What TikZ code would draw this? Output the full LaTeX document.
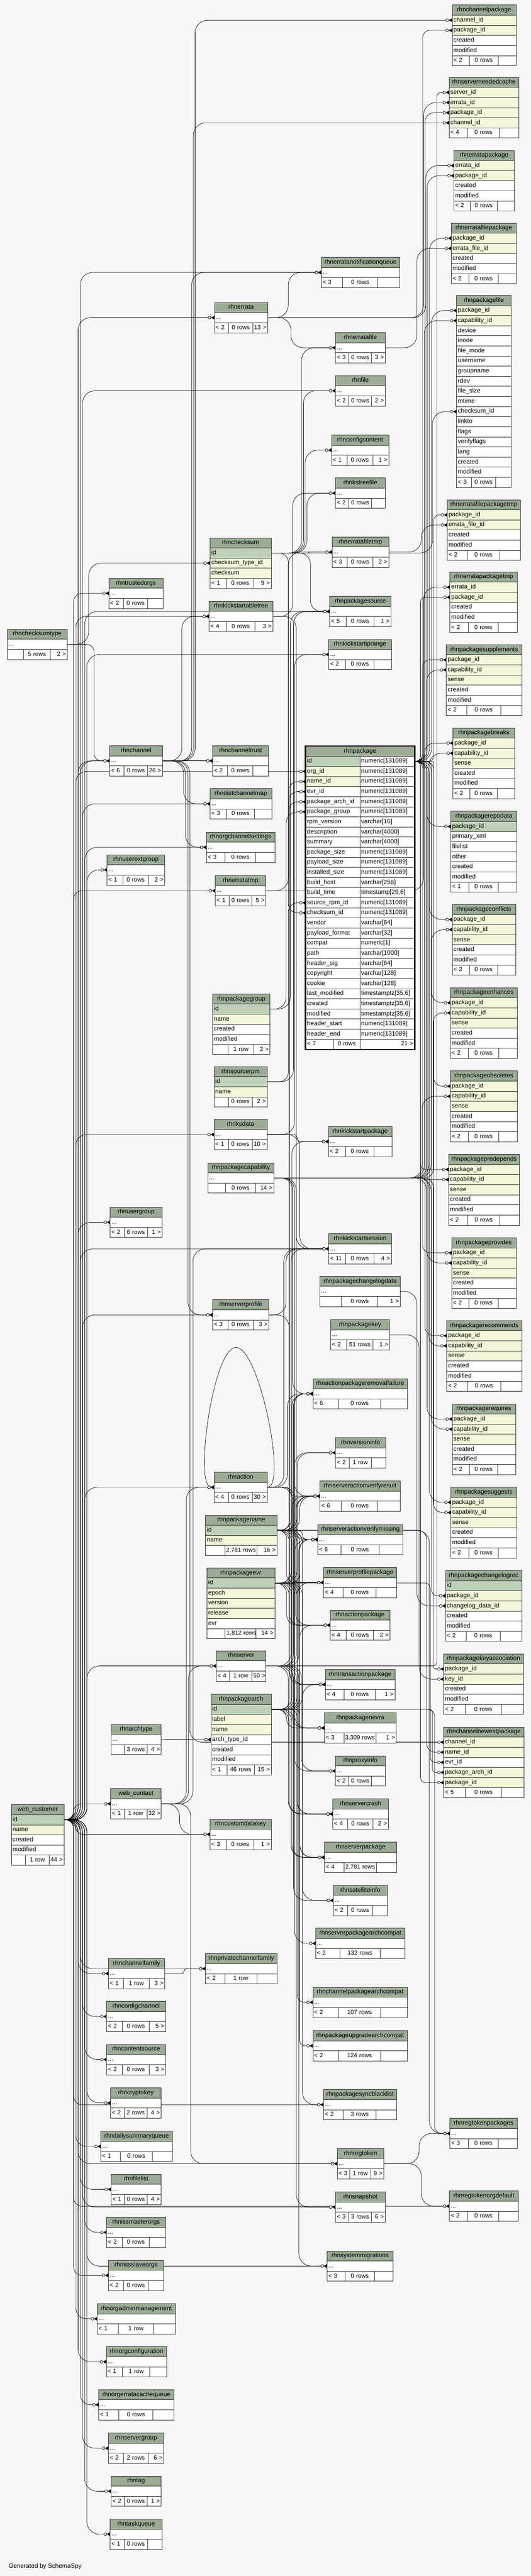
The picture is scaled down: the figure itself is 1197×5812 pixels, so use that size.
\documentclass[tikz,border=0pt]{standalone}
\usepackage{fontspec}
\setmainfont{Liberation Sans}
\usetikzlibrary{calc,arrows.meta}

\definecolor{sheet}{HTML}{F7F7F7}
\definecolor{headgreen}{HTML}{9BAB96}
\definecolor{keygreen}{HTML}{BED1B8}
\definecolor{idxyellow}{HTML}{F4F7DA}

\pgfdeclarelayer{bg}
\pgfdeclarelayer{edges}
\pgfsetlayers{bg,edges,main}

\newcommand{\rowh}{22.8}

% footer row: parents | rows | children
\newcommand{\dbfoot}[7]{%
  \pgfmathsetmacro\fa{0.27*#4}\pgfmathsetmacro\fb{0.45*#4}\pgfmathsetmacro\fc{#4-\fa-\fb}%
  \pgfmathsetmacro\fat{\fa-6}\pgfmathsetmacro\fbt{\fb-6}\pgfmathsetmacro\fct{\fc-6}%
  \node[ftcol, text width=\fat pt, align=left] (#1-fl) at (#2,#3) {\mbox{#5}};
  \node[ftcol, text width=\fbt pt, align=center] (#1-fm) at (#2+\fa,#3) {\mbox{#6}};
  \node[ftcol, text width=\fct pt, align=right] (#1-fr) at (#2+\fa+\fb,#3) {\mbox{#7}};}

% collapsed table
\newcommand{\dbbrief}[7]{%
  \pgfmathsetmacro\tw{#4-6}%
  \node[hdcol, text width=\tw pt] (#1) at (#2,#3) {#1};
  \node[plcol, text width=\tw pt] (#1-r) at (#2,#3+\rowh) {...};
  \dbfoot{#1}{#2}{#3+2*\rowh}{#4}{#5}{#6}{#7}}

% table with its columns
\newcommand{\dbtable}[8]{%
  \pgfmathsetmacro\tw{#4-6}%
  \node[hdcol, text width=\tw pt] (#1) at (#2,#3) {#1};
  \foreach \kind/\fld [count=\rn] in {#5}{%
    \node[\kind, text width=\tw pt] (#1-\fld) at (#2,#3+\rn*\rowh) {\fld};
    \xdef\nrow{\rn}}%
  \dbfoot{#1}{#2}{#3+\nrow*\rowh+\rowh}{#4}{#6}{#7}{#8}}

% foreign key: parent row -> child row, vertical run at x = #1
\newcommand{\fk}[3][0]{%
  \draw[fkline] let \p1=(#2.east), \p2=(#3.west),
    \n1={max(0.5,min(28,abs(\y2-\y1)/2,#1-\x1-2,\x2-#1-18))} in
    [rounded corners=\n1] (\p1) -- (#1pt,\y1) -- (#1pt,\y2) -- (\p2);}

\tikzset{
  cell/.style={draw=black!80, line width=0.9pt, anchor=north west, inner xsep=3pt, inner ysep=0pt,
    minimum height=\rowh pt, text height=10.5pt, text depth=3.5pt, font=\fontsize{14}{16}\selectfont},
  hdcol/.style={cell, fill=headgreen, align=center},
  pkcol/.style={cell, fill=keygreen, align=left},
  ixcol/.style={cell, fill=idxyellow, align=left},
  plcol/.style={cell, fill=white, align=left},
  ftcol/.style={cell, fill=white, font=\fontsize{13.5}{16}\selectfont},
  fkline/.style={draw=black, line width=0.8pt,
    -{Circle[length=7pt,fill=white] Triangle[reversed,length=7pt,width=8pt]}},
}

\begin{document}
\catcode`\_=12
\begin{tikzpicture}[x=1pt,y=-1pt]

  \path[use as bounding box] (0,0) rectangle (1197,5812);
  \begin{pgfonlayer}{bg}
    \fill[sheet] (0,0) rectangle (1197,5812);
  \end{pgfonlayer}

  % right column
  \dbtable{rhnchannelpackage}{1019}{11}{144}{ixcol/channel_id, ixcol/package_id, plcol/created, plcol/modified}{< 2}{0 rows}{}
  \dbtable{rhnserverneededcache}{1012}{174}{157}{ixcol/server_id, ixcol/errata_id, ixcol/package_id, ixcol/channel_id}{< 4}{0 rows}{}
  \dbtable{rhnerratapackage}{1023}{339}{136}{ixcol/errata_id, ixcol/package_id, plcol/created, plcol/modified}{< 2}{0 rows}{}
  \dbtable{rhnerratafilepackage}{1017}{503}{147}{ixcol/package_id, ixcol/errata_file_id, plcol/created, plcol/modified}{< 2}{0 rows}{}
  \dbtable{rhnpackagefile}{1029}{666}{123}{ixcol/package_id, ixcol/capability_id, plcol/device, plcol/inode,
    plcol/file_mode, plcol/username, plcol/groupname, plcol/rdev, plcol/file_size, plcol/mtime, plcol/checksum_id,
    plcol/linkto, plcol/flags, plcol/verifyflags, plcol/lang, plcol/created, plcol/modified}{< 3}{0 rows}{}
  \dbtable{rhnerratafilepackagetmp}{1008}{1127}{165}{ixcol/package_id, ixcol/errata_file_id, plcol/created, plcol/modified}{< 2}{0 rows}{}
  \dbtable{rhnerratapackagetmp}{1014}{1290}{152}{ixcol/errata_id, ixcol/package_id, plcol/created, plcol/modified}{< 2}{0 rows}{}
  \foreach \kname/\kx/\ky/\kw in {supplements/1006/1454/170, breaks/1021/1642/139, conflicts/1019/2040/143,
    enhances/1015/2228/151, obsoletes/1015/2416/151, predepends/1011/2604/160, provides/1018/2792/145,
    recommends/1007/2979/169, requires/1019/3167/143, suggests/1016/3355/149}{%
    \dbtable{rhnpackage\kname}{\kx}{\ky}{\kw}{ixcol/package_id, ixcol/capability_id, ixcol/sense, plcol/created, plcol/modified}{< 2}{0 rows}{}}
  \dbtable{rhnpackagerepodata}{1016}{1830}{149}{pkcol/package_id, plcol/primary_xml, plcol/filelist, plcol/other, plcol/created, plcol/modified}{< 1}{0 rows}{}
  \dbtable{rhnpackagechangelogrec}{1004}{3543}{172}{pkcol/id, ixcol/package_id, ixcol/changelog_data_id, plcol/created, plcol/modified}{< 2}{0 rows}{}
  \dbtable{rhnpackagekeyassociation}{1000}{3731}{180}{ixcol/package_id, ixcol/key_id, plcol/created, plcol/modified}{< 2}{0 rows}{}
  \dbtable{rhnchannelnewestpackage}{1000}{3896}{181}{ixcol/channel_id, ixcol/name_id, plcol/evr_id, ixcol/package_arch_id, ixcol/package_id}{< 5}{0 rows}{}
  \dbbrief{rhnregtokenpackages}{1014}{4779}{152}{< 3}{0 rows}{}
  \dbbrief{rhnregtokenorgdefault}{1013}{4943}{155}{< 2}{0 rows}{}

  % the package table
  \node[hdcol, text width=239pt] (rhnpackage) at (689,1683) {rhnpackage};
  \foreach \kind/\fld/\typ [count=\rn] in {pkcol/id/numeric[131089], ixcol/org_id/numeric[131089],
    ixcol/name_id/numeric[131089], plcol/evr_id/numeric[131089], plcol/package_arch_id/numeric[131089],
    plcol/package_group/numeric[131089], plcol/rpm_version/varchar[16], plcol/description/varchar[4000],
    plcol/summary/varchar[4000], plcol/package_size/numeric[131089], plcol/payload_size/numeric[131089],
    plcol/installed_size/numeric[131089], plcol/build_host/varchar[256], plcol/build_time/{timestamp[29,6]},
    plcol/source_rpm_id/numeric[131089], plcol/checksum_id/numeric[131089], plcol/vendor/varchar[64],
    plcol/payload_format/varchar[32], plcol/compat/numeric[1], plcol/path/varchar[1000],
    plcol/header_sig/varchar[64], plcol/copyright/varchar[128], plcol/cookie/varchar[128],
    plcol/last_modified/{timestamptz[35,6]}, plcol/created/{timestamptz[35,6]},
    plcol/modified/{timestamptz[35,6]}, plcol/header_start/numeric[131089], plcol/header_end/numeric[131089]}{%
    \node[\kind, text width=116pt] (rhnpackage-\fld) at (689,1683+\rn*\rowh) {\fld};
    \node[plcol, text width=117pt] (rhnpackage-\fld-type) at (811,1683+\rn*\rowh) {\typ};}
  \node[ftcol, text width=57pt, align=left] (rhnpackage-fl) at (689,1683+29*\rowh) {< 7};
  \node[ftcol, text width=53pt, align=center] (rhnpackage-fm) at (752,1683+29*\rowh) {0 rows};
  \node[ftcol, text width=117pt, align=right] (rhnpackage-fr) at (811,1683+29*\rowh) {21 >};
  \draw[line width=3pt] (rhnpackage.north west) rectangle (rhnpackage-fr.south east);

  % third column
  \dbbrief{rhnerratanotificationqueue}{724}{580}{177}{< 3}{0 rows}{}
  \dbbrief{rhnerratafile}{756}{750}{112}{< 3}{0 rows}{3 >}
  \dbbrief{rhnfile}{756}{847}{112}{< 2}{0 rows}{2 >}
  \dbbrief{rhnconfigcontent}{747}{981}{129}{< 1}{0 rows}{1 >}
  \dbbrief{rhnkstreefile}{756}{1078}{112}{< 2}{0 rows}{}
  \dbbrief{rhnerratafiletmp}{748}{1211}{128}{< 3}{0 rows}{2 >}
  \dbbrief{rhnpackagesource}{743}{1345}{138}{< 5}{0 rows}{1 >}
  \dbbrief{rhnkickstartiprange}{741}{1442}{141}{< 2}{0 rows}{}
  \dbbrief{rhnkickstartpackage}{740}{2541}{143}{< 2}{0 rows}{}
  \dbbrief{rhnkickstartsession}{741}{2783}{141}{< 11}{0 rows}{4 >}
  \dbbrief{rhnpackagechangelogdata}{721}{2879}{181}{}{0 rows}{1 >}
  \dbbrief{rhnpackagekey}{745}{2977}{133}{< 2}{51 rows}{1 >}
  \dbbrief{rhnactionpackageremovalfailure}{705}{3110}{213}{< 6}{0 rows}{}
  \dbbrief{rhnversioninfo}{756}{3243}{113}{< 2}{1 row}{}
  \dbbrief{rhnserveractionverifyresult}{721}{3341}{181}{< 6}{0 rows}{}
  \dbbrief{rhnserveractionverifymissing}{716}{3439}{192}{< 6}{0 rows}{}
  \dbbrief{rhnserverprofilepackage}{729}{3536}{165}{< 4}{0 rows}{}
  \dbbrief{rhnactionpackage}{744}{3632}{135}{< 4}{0 rows}{2 >}
  \dbbrief{rhntransactionpackage}{733}{3766}{157}{< 4}{0 rows}{1 >}
  \dbbrief{rhnpackagenevra}{731}{3864}{162}{< 3}{3,309 rows}{1 >}
  \dbbrief{rhnproxyinfo}{756}{3961}{112}{< 2}{0 rows}{}
  \dbbrief{rhnservercrash}{750}{4058}{125}{< 4}{0 rows}{2 >}
  \dbbrief{rhnserverpackage}{731}{4156}{163}{< 4}{2,781 rows}{}
  \dbbrief{rhnsatelliteinfo}{751}{4253}{122}{< 2}{0 rows}{}
  \dbbrief{rhnserverpackagearchcompat}{711}{4350}{202}{< 2}{132 rows}{}
  \dbbrief{rhnchannelpackagearchcompat}{705}{4483}{213}{< 2}{107 rows}{}
  \dbbrief{rhnpackageupgradearchcompat}{705}{4581}{213}{< 2}{124 rows}{}
  \dbbrief{rhnpackagesyncblacklist}{729}{4714}{165}{< 2}{3 rows}{}
  \dbbrief{rhnregtoken}{760}{4847}{105}{< 3}{1 row}{9 >}
  \dbbrief{rhnsnapshot}{756}{4945}{112}{< 3}{3 rows}{6 >}
  \dbbrief{rhnsystemmigrations}{737}{5078}{149}{< 3}{0 rows}{}

  % middle column
  \dbbrief{rhnerrata}{483}{682}{120}{< 2}{0 rows}{13 >}
  \dbtable{rhnchecksum}{473}{1213}{138}{pkcol/id, ixcol/checksum_type_id, ixcol/checksum}{< 1}{0 rows}{9 >}
  \dbbrief{rhnkickstartabletree}{471}{1356}{144}{< 4}{0 rows}{3 >}
  \dbbrief{rhnchanneltrust}{479}{1682}{126}{< 2}{0 rows}{}
  \dbbrief{rhndistchannelmap}{473}{1779}{139}{< 3}{0 rows}{}
  \dbbrief{rhnorgchannelsettings}{465}{1877}{154}{< 3}{0 rows}{}
  \dbbrief{rhnerratatmp}{485}{1975}{114}{< 1}{0 rows}{5 >}
  \dbtable{rhnpackagegroup}{479}{2242}{129}{pkcol/id, ixcol/name, plcol/created, plcol/modified}{}{1 row}{2 >}
  \dbtable{rhnsourcerpm}{482}{2406}{120}{pkcol/id, ixcol/name}{}{0 rows}{2 >}
  \dbbrief{rhnksdata}{482}{2525}{120}{< 1}{0 rows}{10 >}
  \dbbrief{rhnpackagecapability}{468}{2623}{149}{}{0 rows}{14 >}
  \dbbrief{rhnserverprofile}{479}{2932}{127}{< 3}{0 rows}{3 >}
  \dbbrief{rhnaction}{482}{3321}{120}{< 4}{0 rows}{30 >}
  \dbtable{rhnpackagename}{463}{3418}{161}{pkcol/id, ixcol/name}{}{2,781 rows}{16 >}
  \dbtable{rhnpackageevr}{466}{3537}{153}{pkcol/id, ixcol/epoch, ixcol/version, ixcol/release, plcol/evr}{}{1,812 rows}{14 >}
  \dbbrief{rhnserver}{487}{3724}{112}{< 4}{1 row}{50 >}
  \dbtable{rhnpackagearch}{475}{3822}{136}{pkcol/id, ixcol/label, ixcol/name, plcol/arch_type_id, plcol/created, plcol/modified}{< 1}{46 rows}{15 >}
  \dbbrief{rhncustomdatakey}{473}{4104}{138}{< 3}{0 rows}{1 >}
  \dbbrief{rhnprivatechannelfamily}{463}{4407}{161}{< 2}{1 row}{}

  % second column
  \dbbrief{rhntrustedorgs}{245}{1304}{122}{< 2}{0 rows}{}
  \dbbrief{rhnchannel}{247}{1682}{119}{< 6}{0 rows}{26 >}
  \dbbrief{rhnuserextgroup}{241}{1928}{130}{< 1}{0 rows}{2 >}
  \dbbrief{rhnusergroup}{248}{2723}{117}{< 2}{6 rows}{1 >}
  \dbbrief{rhnarchtype}{250}{3890}{113}{}{3 rows}{4 >}
  \dbbrief{web_contact}{249}{4035}{114}{< 1}{1 row}{32 >}
  \dbbrief{rhnchannelfamily}{244}{4418}{127}{< 1}{1 row}{3 >}
  \dbbrief{rhnconfigchannel}{240}{4515}{133}{< 2}{0 rows}{5 >}
  \dbbrief{rhncontentsource}{240}{4612}{133}{< 2}{0 rows}{3 >}
  \dbbrief{rhncryptokey}{249}{4710}{114}{< 2}{2 rows}{4 >}
  \dbbrief{rhndailysummaryqueue}{227}{4808}{161}{< 1}{0 rows}{}
  \dbbrief{rhnfilelist}{250}{4905}{113}{< 1}{0 rows}{4 >}
  \dbbrief{rhnissmasterorgs}{240}{5002}{133}{< 2}{0 rows}{}
  \dbbrief{rhnissslaveorgs}{244}{5099}{125}{< 2}{0 rows}{}
  \dbbrief{rhnorgadminmanagement}{219}{5197}{176}{< 1}{1 row}{}
  \dbbrief{rhnorgconfiguration}{239}{5294}{137}{< 1}{1 row}{}
  \dbbrief{rhnorgerratacachequeue}{222}{5391}{170}{< 1}{0 rows}{}
  \dbbrief{rhnservergroup}{244}{5489}{125}{< 2}{2 rows}{6 >}
  \dbbrief{rhntag}{250}{5586}{113}{< 2}{0 rows}{1 >}
  \dbbrief{rhntaskqueue}{248}{5683}{117}{< 1}{0 rows}{}

  % first column
  \dbbrief{rhnchecksumtype}{16}{1419}{135}{}{5 rows}{2 >}
  \dbtable{web_customer}{25}{4071}{119}{pkcol/id, ixcol/name, plcol/created, plcol/modified}{}{1 row}{44 >}

  \node[anchor=west, font=\fontsize{14}{16}\selectfont] (credit) at (16,5790) {Generated by SchemaSpy};

  \begin{pgfonlayer}{edges}
    \foreach \ch [count=\i] in {rhnpackage-org_id, rhnerrata-r, rhnerratanotificationqueue-r, rhnfile-r,
      rhnpackagesource-r, rhnkickstartiprange-r, rhntrustedorgs-r, rhnkickstartabletree-r, rhnchannel-r,
      rhnchanneltrust-r, rhndistchannelmap-r, rhnorgchannelsettings-r, rhnuserextgroup-r, rhnerratatmp-r,
      rhnksdata-r, rhnusergroup-r, rhnkickstartsession-r, rhnserverprofile-r, rhnaction-r, rhnserver-r,
      web_contact-r, rhncustomdatakey-r, rhnchannelfamily-r, rhnprivatechannelfamily-r, rhnconfigchannel-r,
      rhncontentsource-r, rhncryptokey-r, rhnpackagesyncblacklist-r, rhndailysummaryqueue-r, rhnregtoken-r,
      rhnfilelist-r, rhnsnapshot-r, rhnissmasterorgs-r, rhnsystemmigrations-r, rhnissslaveorgs-r,
      rhnorgadminmanagement-r, rhnorgconfiguration-r, rhnorgerratacachequeue-r, rhnservergroup-r, rhntag-r,
      rhntaskqueue-r, rhnregtokenorgdefault-r}{%
      \pgfmathtruncatemacro\cx{166+mod(\i,7)*5}\fk[\cx]{web_customer-id}{\ch}}

    \fk[200]{rhnchecksumtype-r}{rhnchecksum-checksum_type_id}
    \fk[212]{rhnchecksumtype-r}{rhnchannel-r}

    \foreach \ch/\cx in {rhnpackage-checksum_id/650, rhnerratafile-r/680, rhnfile-r/684, rhnconfigcontent-r/688,
      rhnkstreefile-r/692, rhnerratafiletmp-r/696, rhnpackagesource-r/700, rhnpackagefile-checksum_id/975}{%
      \fk[\cx]{rhnchecksum-id}{\ch}}

    \draw[fkline] (rhnchannel-r.east) -- (rhnchanneltrust-r.west);
    \foreach \ch/\cx in {rhnchannelpackage-channel_id/440, rhnserverneededcache-channel_id/436,
      rhnerratanotificationqueue-r/432, rhnkickstartabletree-r/410, rhndistchannelmap-r/414,
      rhnorgchannelsettings-r/418, rhnserverprofile-r/424, rhnchannelnewestpackage-channel_id/428}{%
      \fk[\cx]{rhnchannel-r}{\ch}}

    \foreach \ch/\cx in {rhnserverneededcache-errata_id/955, rhnerratapackage-errata_id/960,
      rhnerratanotificationqueue-r/650, rhnerratafile-r/656}{%
      \fk[\cx]{rhnerrata-r}{\ch}}
    \fk[940]{rhnerratafile-r}{rhnerratafilepackage-errata_file_id}
    \fk[660]{rhnkickstartabletree-r}{rhnkstreefile-r}
    \fk[668]{rhnkickstartabletree-r}{rhnkickstartsession-r}
    \fk[650]{rhnerratatmp-r}{rhnerratafiletmp-r}
    \fk[955]{rhnerratatmp-r}{rhnerratapackagetmp-errata_id}
    \fk[950]{rhnerratafiletmp-r}{rhnerratafilepackagetmp-errata_file_id}
    \fk[645]{rhnpackagegroup-id}{rhnpackage-package_group}
    \fk[655]{rhnpackagegroup-id}{rhnpackagesource-r}
    \fk[650]{rhnsourcerpm-id}{rhnpackage-source_rpm_id}
    \fk[662]{rhnsourcerpm-id}{rhnpackagesource-r}
    \foreach \ch/\cx in {rhnkickstartiprange-r/664, rhnkickstartpackage-r/670, rhnkickstartsession-r/676}{%
      \fk[\cx]{rhnksdata-r}{\ch}}

    \foreach \ch [count=\i] in {rhnpackagefile-capability_id, rhnpackagesupplements-capability_id,
      rhnpackagebreaks-capability_id, rhnpackageconflicts-capability_id, rhnpackageenhances-capability_id,
      rhnpackageobsoletes-capability_id, rhnpackagepredepends-capability_id, rhnpackageprovides-capability_id,
      rhnpackagerecommends-capability_id, rhnpackagerequires-capability_id, rhnpackagesuggests-capability_id}{%
      \pgfmathtruncatemacro\cx{952+mod(\i,6)*5}\fk[\cx]{rhnpackagecapability-r}{\ch}}
    \foreach \ch/\cx in {rhnactionpackageremovalfailure-r/660, rhnserveractionverifyresult-r/664,
      rhnserveractionverifymissing-r/668}{%
      \fk[\cx]{rhnpackagecapability-r}{\ch}}

    \fk[645]{rhnserverprofile-r}{rhnkickstartsession-r}
    \fk[652]{rhnserverprofile-r}{rhnserverprofilepackage-r}

    \foreach \ch/\cx in {rhnkickstartsession-r/640, rhnactionpackageremovalfailure-r/648,
      rhnserveractionverifyresult-r/654, rhnserveractionverifymissing-r/660, rhnactionpackage-r/666}{%
      \fk[\cx]{rhnaction-r}{\ch}}
    \coordinate (actionloop) at (532,3040);
    \draw[fkline] (rhnaction-r.east) .. controls +(45,0) and (585,3040) .. (actionloop)
      .. controls (480,3040) and +(-45,0) .. (rhnaction-r.west);

    \foreach \ch [count=\i] in {rhnpackage-name_id, rhnkickstartpackage-r, rhnactionpackageremovalfailure-r,
      rhnversioninfo-r, rhnserveractionverifyresult-r, rhnserveractionverifymissing-r, rhnserverprofilepackage-r,
      rhnactionpackage-r, rhntransactionpackage-r, rhnpackagenevra-r, rhnservercrash-r, rhnserverpackage-r,
      rhnpackagesyncblacklist-r}{%
      \pgfmathtruncatemacro\cx{646+mod(\i,7)*6}\fk[\cx]{rhnpackagename-id}{\ch}}
    \fk[962]{rhnpackagename-id}{rhnchannelnewestpackage-name_id}
    \fk[968]{rhnpackagename-id}{rhnregtokenpackages-r}

    \foreach \ch [count=\i] in {rhnpackage-evr_id, rhnactionpackageremovalfailure-r, rhnversioninfo-r,
      rhnserveractionverifyresult-r, rhnserveractionverifymissing-r, rhnserverprofilepackage-r,
      rhnactionpackage-r, rhntransactionpackage-r, rhnpackagenevra-r, rhnproxyinfo-r, rhnservercrash-r,
      rhnserverpackage-r, rhnsatelliteinfo-r}{%
      \pgfmathtruncatemacro\cx{646+mod(\i,7)*6}\fk[\cx]{rhnpackageevr-id}{\ch}}
    \fk[970]{rhnpackageevr-id}{rhnchannelnewestpackage-evr_id}

    \foreach \ch [count=\i] in {rhnkickstartsession-r, rhnactionpackageremovalfailure-r,
      rhnserveractionverifyresult-r, rhnserveractionverifymissing-r, rhnproxyinfo-r, rhnservercrash-r,
      rhnserverpackage-r, rhnsatelliteinfo-r, rhnsnapshot-r, rhnsystemmigrations-r}{%
      \pgfmathtruncatemacro\cx{650+mod(\i,6)*6}\fk[\cx]{rhnserver-r}{\ch}}
    \fk[985]{rhnserver-r}{rhnserverneededcache-server_id}

    \foreach \ch [count=\i] in {rhnpackage-package_arch_id, rhnserveractionverifyresult-r,
      rhnserveractionverifymissing-r, rhnserverprofilepackage-r, rhnactionpackage-r, rhntransactionpackage-r,
      rhnpackagenevra-r, rhnservercrash-r, rhnserverpackage-r, rhnserverpackagearchcompat-r,
      rhnchannelpackagearchcompat-r, rhnpackageupgradearchcompat-r}{%
      \pgfmathtruncatemacro\cx{646+mod(\i,7)*6}\fk[\cx]{rhnpackagearch-id}{\ch}}
    \fk[975]{rhnpackagearch-id}{rhnchannelnewestpackage-package_arch_id}
    \fk[980]{rhnpackagearch-id}{rhnregtokenpackages-r}
    \draw[fkline] (rhnarchtype-r.east) -- (rhnpackagearch-arch_type_id.west);

    \foreach \ch/\cx in {rhncustomdatakey-r/405, rhnaction-r/420, rhnserver-r/425, rhnregtoken-r/430,
      rhnkickstartsession-r/435}{%
      \fk[\cx]{web_contact-r}{\ch}}
    \fk[415]{rhnchannelfamily-r}{rhnprivatechannelfamily-r}
    \fk[945]{rhnregtoken-r}{rhnregtokenpackages-r}
    \fk[950]{rhnregtoken-r}{rhnregtokenorgdefault-r}
    \fk[945]{rhnpackagekey-r}{rhnpackagekeyassociation-key_id}
    \fk[940]{rhnpackagechangelogdata-r}{rhnpackagechangelogrec-changelog_data_id}

    \foreach \ch [count=\i] in {rhnchannelpackage-package_id, rhnserverneededcache-package_id,
      rhnerratapackage-package_id, rhnerratafilepackage-package_id, rhnpackagefile-package_id,
      rhnerratafilepackagetmp-package_id, rhnerratapackagetmp-package_id, rhnpackagesupplements-package_id,
      rhnpackagebreaks-package_id, rhnpackagerepodata-package_id, rhnpackageconflicts-package_id,
      rhnpackageenhances-package_id, rhnpackageobsoletes-package_id, rhnpackagepredepends-package_id,
      rhnpackageprovides-package_id, rhnpackagerecommends-package_id, rhnpackagerequires-package_id,
      rhnpackagesuggests-package_id, rhnpackagechangelogrec-package_id, rhnpackagekeyassociation-package_id,
      rhnchannelnewestpackage-package_id}{%
      \pgfmathtruncatemacro\cx{948+mod(\i,7)*5}\fk[\cx]{rhnpackage-id-type}{\ch}}
  \end{pgfonlayer}

\end{tikzpicture}
\end{document}
